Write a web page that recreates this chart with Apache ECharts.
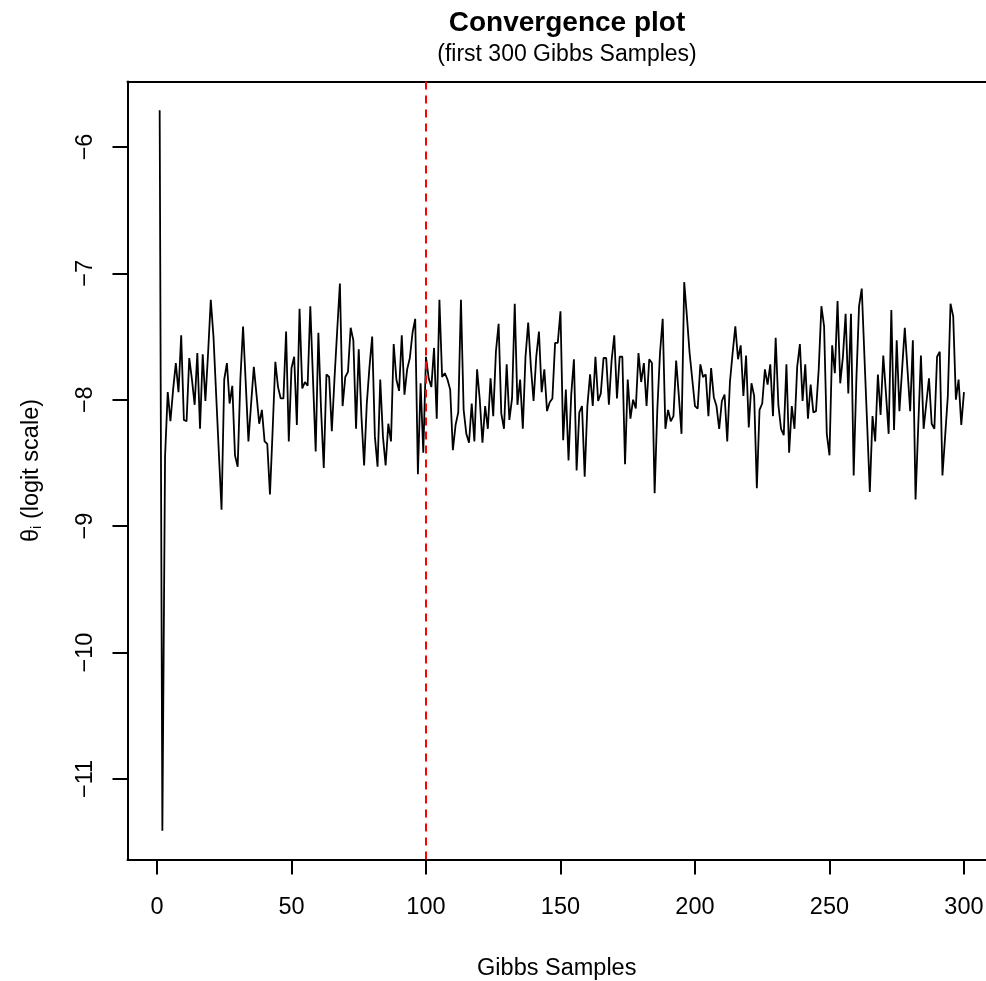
<!DOCTYPE html>
<html>
<head>
<meta charset="utf-8">
<title>Convergence plot</title>
<script src="https://cdn.jsdelivr.net/npm/echarts@6/dist/echarts.min.js"></script>
<style>
  html, body { margin: 0; padding: 0; background: #fff; }
  #main { width: 986px; height: 981px; }
</style>
</head>
<body>
<div id="main"></div>
<script>
// theta_i (logit scale) for Gibbs samples 1..300
const thetaA = [
  -5.71, -11.41, -8.45, -7.94, -8.17, -7.92, -7.71, -7.94, -7.49, -8.16,
  -8.17, -7.67, -7.84, -8.04, -7.63, -8.23, -7.64, -8.01, -7.63, -7.21,
  -7.50, -7.96, -8.42, -8.87, -7.84, -7.71, -8.03, -7.89, -8.44, -8.53,
  -7.84, -7.42, -7.87, -8.33, -8.03, -7.74, -7.96, -8.19, -8.08, -8.33,
  -8.35, -8.75, -8.24, -7.70, -7.90, -7.99, -7.99, -7.46, -8.33, -7.75,
  -7.66, -8.20, -7.28, -7.91, -7.86, -7.89, -7.26, -7.84, -8.41, -7.47,
  -8.08, -8.54, -7.80, -7.82, -8.25, -7.83, -7.45, -7.08, -8.05, -7.82,
  -7.78, -7.43, -7.53, -8.23, -7.60, -8.13, -8.52, -8.03, -7.74, -7.50,
  -8.29, -8.53, -7.84, -8.29, -8.52, -8.19, -8.33, -7.56, -7.84, -7.93,
  -7.49, -7.96, -7.76, -7.67, -7.47, -7.36, -8.59, -7.87, -8.42, -7.66
];
const thetaB = [
  -7.83, -7.90, -7.59, -8.15, -7.21, -7.82, -7.79, -7.84, -7.92, -8.40,
  -8.20, -8.10, -7.21, -8.08, -8.27, -8.34, -8.03, -8.33, -7.76, -8.00,
  -8.34, -8.05, -8.23, -7.83, -8.13, -7.62, -7.40, -8.11, -8.23, -7.72,
  -8.16, -7.99, -7.24, -8.04, -7.84, -8.23, -7.66, -7.39, -7.74, -8.01,
  -7.66, -7.46, -7.94, -7.76, -8.09, -8.02, -7.99, -7.55, -7.55, -7.30,
  -8.32, -7.92, -8.48, -7.96, -7.68, -8.56, -8.10, -8.05, -8.61, -8.05,
  -7.80, -8.05, -7.66, -8.01, -7.95, -7.67, -7.67, -8.04, -7.69, -7.49,
  -7.99, -7.66, -7.66, -8.51, -7.84, -8.15, -8.00, -8.07, -7.63, -7.86,
  -7.71, -8.05, -7.68, -7.71, -8.74, -8.08, -7.63, -7.36, -8.23, -8.08,
  -8.17, -8.13, -7.69, -7.97, -8.27, -7.07, -7.34, -7.63, -7.84, -8.05
];
const thetaC = [
  -8.07, -7.72, -7.82, -7.80, -8.13, -7.75, -7.98, -8.05, -8.23, -8.01,
  -7.96, -8.33, -7.86, -7.63, -7.42, -7.68, -7.57, -7.97, -7.65, -8.22,
  -7.87, -7.97, -8.70, -8.08, -8.03, -7.76, -7.88, -7.72, -8.13, -7.51,
  -8.04, -8.23, -8.28, -7.72, -8.42, -8.05, -8.23, -7.74, -7.56, -8.01,
  -7.72, -8.15, -7.88, -8.10, -8.09, -7.76, -7.26, -7.42, -8.27, -8.44,
  -7.57, -7.79, -7.22, -7.87, -7.66, -7.32, -7.95, -7.32, -8.60, -7.84,
  -7.26, -7.12, -7.66, -8.19, -8.73, -8.13, -8.33, -7.80, -8.12, -7.65,
  -7.95, -8.27, -7.29, -8.24, -7.53, -8.09, -7.76, -7.43, -7.76, -8.09,
  -7.53, -8.79, -8.21, -7.65, -8.23, -8.03, -7.83, -8.19, -8.23, -7.66,
  -7.62, -8.60, -8.29, -7.97, -7.24, -7.34, -8.00, -7.84, -8.20, -7.94
];
const theta = thetaA.concat(thetaB, thetaC);

const xTicks = [0, 50, 100, 150, 200, 250, 300];
const yTicks = [-11, -10, -9, -8, -7, -6];
const burnIn = 100;

const font = "'Liberation Sans', Arial, Helvetica, sans-serif";
const chart = echarts.init(document.getElementById('main'));

const boxLine = { show: true, onZero: false, lineStyle: { color: '#000', width: 2 } };

chart.setOption({
  animation: false,
  title: [
    {
      text: 'Convergence plot',
      left: 562, top: 4, textAlign: 'center',
      textStyle: { fontFamily: font, fontSize: 28, fontWeight: 'bold', color: '#000' }
    },
    {
      text: '(first 300 Gibbs Samples)',
      left: 562, top: 38, textAlign: 'center',
      textStyle: { fontFamily: font, fontSize: 23, fontWeight: 'normal', color: '#000' }
    }
  ],
  // plot box runs to the window's right edge (R's box is cut off there)
  grid: { left: 127.5, top: 81.5, right: 0, height: 778, outerBoundsMode: 'none' },
  xAxis: [
    {
      type: 'value', min: -10.96, max: 308.19,
      splitLine: { show: false },
      axisLine: boxLine,
      axisTick: { customValues: xTicks, length: 15, lineStyle: { color: '#000', width: 2 } },
      axisLabel: { customValues: xTicks, fontFamily: font, fontSize: 23.5, color: '#000', margin: 36 },
      name: 'Gibbs Samples', nameLocation: 'middle', nameGap: 97,
      nameTextStyle: { fontFamily: font, fontSize: 23.5, color: '#000' }
    },
    {
      type: 'value', position: 'top', min: -10.96, max: 308.19,
      splitLine: { show: false }, axisLine: boxLine,
      axisTick: { show: false }, axisLabel: { show: false }
    }
  ],
  yAxis: {
    type: 'value', min: -11.638, max: -5.482,
    splitLine: { show: false },
    axisLine: boxLine,
    axisTick: { customValues: yTicks, length: 15, lineStyle: { color: '#000', width: 2 } },
    axisLabel: {
      customValues: yTicks, rotate: 90, fontFamily: font, fontSize: 23.5, color: '#000', margin: 30,
      formatter: v => String(v).replace('-', '\u2212')
    },
    name: '\u03b8{sub|i} (logit scale)', nameLocation: 'middle', nameRotate: 90, nameGap: 83,
    nameTextStyle: {
      fontFamily: font, fontSize: 23.5, color: '#000',
      rich: { sub: { fontFamily: font, fontSize: 15, color: '#000', padding: [10, 0, 0, 0] } }
    }
  },
  series: [
    {
      type: 'line',
      data: theta.map((v, i) => [i + 1, v]),
      symbol: 'none',
      lineStyle: { color: '#000', width: 1.8 },
      markLine: {
        silent: true, symbol: 'none',
        label: { show: false },
        lineStyle: { color: '#ff0000', type: [8, 6], width: 2 },
        data: [{ xAxis: burnIn }]
      }
    }
  ]
});
</script>
</body>
</html>
